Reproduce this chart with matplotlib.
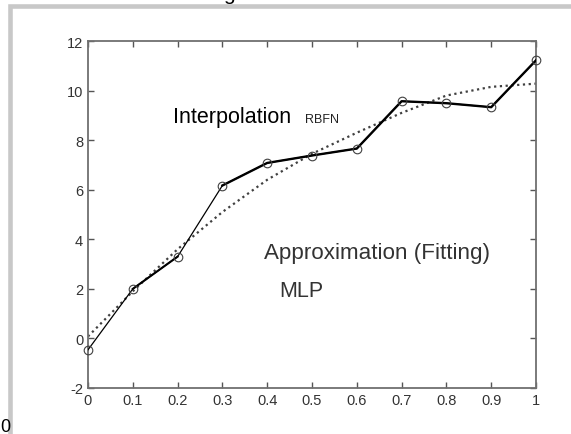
import matplotlib
matplotlib.use("Agg")
import matplotlib.pyplot as plt
from matplotlib.patches import Rectangle

plt.rcParams['font.family'] = ['Liberation Sans', 'DejaVu Sans']
plt.rcParams['axes.unicode_minus'] = False

# Data
x_pts = [0.0, 0.1, 0.2, 0.3, 0.4, 0.5, 0.6, 0.7, 0.8, 0.9, 1.0]
y_pts = [-0.46, 2.0, 3.3, 6.17, 7.08, 7.38, 7.66, 9.57, 9.49, 9.33, 11.22]
y_fit = [0.08, 1.9, 3.6, 5.1, 6.4, 7.45, 8.3, 9.1, 9.8, 10.15, 10.28]
xticks = [0, 0.1, 0.2, 0.3, 0.4, 0.5, 0.6, 0.7, 0.8, 0.9, 1]
xticklabels = ['0', '0.1', '0.2', '0.3', '0.4', '0.5', '0.6', '0.7', '0.8', '0.9', '1']
yticks = [-2, 0, 2, 4, 6, 8, 10, 12]

W, H = 571, 435
fig = plt.figure(figsize=(W / 100, H / 100), dpi=100)
ax = fig.add_axes([88 / W, 1 - 389 / H, 448 / W, 347 / H])

# approximation (MLP) dotted curve
ax.plot(x_pts, y_fit, linestyle=(0, (1, 1.6)), color='#404040', lw=1.6, zorder=2)
# interpolation (RBFN) through the points
ax.plot(x_pts, y_pts, color='black', lw=0.9, zorder=3)
ax.plot(x_pts[1:3], y_pts[1:3], color='black', lw=1.5, zorder=3)
ax.plot(x_pts[3:], y_pts[3:], color='black', lw=1.7, zorder=3)
ax.plot(x_pts, y_pts, linestyle='none', marker='o', markersize=6.2,
        markerfacecolor='none', markeredgecolor='#404040', markeredgewidth=0.8,
        zorder=4, clip_on=False)

ax.set_xlim(0, 1)
ax.set_ylim(-2, 12)
ax.set_xticks(xticks)
ax.set_xticklabels(xticklabels)
ax.set_yticks(yticks)
ax.tick_params(direction='in', length=4, width=1, colors='#555555',
               labelcolor='#333333', labelsize=10.5, top=True, right=True, pad=3.5)
for s in ax.spines.values():
    s.set_color('#707070')
    s.set_linewidth(1.3)

# annotations
ax.text(0.19, 8.73, 'Interpolation', fontsize=15.5, color='black', va='baseline')
ax.text(0.485, 8.73, 'RBFN', fontsize=9, color='#222222', va='baseline')
ax.text(0.393, 3.23, 'Approximation (Fitting)', fontsize=16.1, color='#333333', va='baseline')
ax.text(0.427, 1.72, 'MLP', fontsize=15.5, color='#333333', va='baseline')

# gray frame and cut-off texts
fig.add_artist(Rectangle((9.5 / W, -0.1), 1.2, 1.1 - 7 / H, transform=fig.transFigure,
                         fill=False, ec='#c8c8c8', lw=3.3, clip_on=False))
fig.text(229 / W, 1 - 4 / H, 'g', ha='center', va='bottom', fontsize=15, color='black')
fig.text(0 / W, 1 - 432 / H, '0', ha='left', va='baseline', fontsize=13, color='black')

fig.savefig('out.png', dpi=100)
